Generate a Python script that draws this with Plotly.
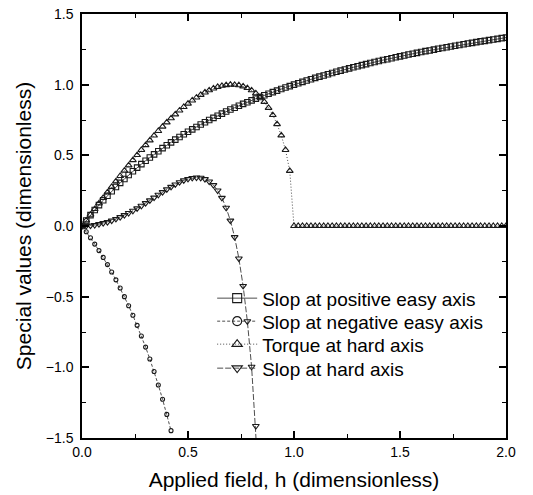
import plotly.graph_objects as go

# sampling grid of applied field h (step 0.02)
h_grid = [round(i * 0.02, 2) for i in range(101)]

# Slop at positive easy axis (h = 0 ... 2.0)
pos_easy = [
    0.000, 0.039, 0.077, 0.113, 0.148, 0.182, 0.214, 0.246, 0.276, 0.305,
    0.333, 0.361, 0.387, 0.413, 0.438, 0.462, 0.485, 0.507, 0.529, 0.551,
    0.571, 0.592, 0.611, 0.630, 0.649, 0.667, 0.684, 0.701, 0.718, 0.734,
    0.750, 0.765, 0.780, 0.795, 0.810, 0.824, 0.837, 0.851, 0.864, 0.876,
    0.889, 0.901, 0.913, 0.925, 0.936, 0.947, 0.958, 0.969, 0.980, 0.990,
    1.000, 1.010, 1.020, 1.029, 1.038, 1.048, 1.057, 1.065, 1.074, 1.083,
    1.091, 1.099, 1.107, 1.115, 1.123, 1.130, 1.138, 1.145, 1.153, 1.160,
    1.167, 1.174, 1.180, 1.187, 1.194, 1.200, 1.206, 1.213, 1.219, 1.225,
    1.231, 1.237, 1.242, 1.248, 1.254, 1.259, 1.265, 1.270, 1.275, 1.281,
    1.286, 1.291, 1.296, 1.301, 1.306, 1.310, 1.315, 1.320, 1.324, 1.329,
    1.333,
]

# Slop at negative easy axis (h = 0 ... 0.42)
neg_easy = [
    0.000, -0.041, -0.083, -0.128, -0.174, -0.222, -0.273, -0.326, -0.381, -0.439,
    -0.500, -0.564, -0.632, -0.703, -0.778, -0.857, -0.941, -1.030, -1.125, -1.226,
    -1.333, -1.448,
]

# Torque at hard axis (h = 0 ... 2.0)
torque_hard = [
    0.000, 0.040, 0.080, 0.120, 0.160, 0.199, 0.238, 0.277, 0.316, 0.354,
    0.392, 0.429, 0.466, 0.502, 0.538, 0.572, 0.606, 0.640, 0.672, 0.703,
    0.733, 0.762, 0.790, 0.817, 0.842, 0.866, 0.888, 0.909, 0.928, 0.945,
    0.960, 0.973, 0.984, 0.992, 0.997, 1.000, 0.999, 0.996, 0.988, 0.976,
    0.960, 0.939, 0.912, 0.878, 0.836, 0.785, 0.721, 0.641, 0.538, 0.390,
    0.0, 0.0, 0.0, 0.0, 0.0, 0.0, 0.0, 0.0, 0.0, 0.0,
    0.0, 0.0, 0.0, 0.0, 0.0, 0.0, 0.0, 0.0, 0.0, 0.0,
    0.0, 0.0, 0.0, 0.0, 0.0, 0.0, 0.0, 0.0, 0.0, 0.0,
    0.0, 0.0, 0.0, 0.0, 0.0, 0.0, 0.0, 0.0, 0.0, 0.0,
    0.0, 0.0, 0.0, 0.0, 0.0, 0.0, 0.0, 0.0, 0.0, 0.0,
    0.0,
]

# Slop at hard axis (h = 0 ... 0.84)
slope_hard = [
    0.000, 0.001, 0.003, 0.007, 0.013, 0.020, 0.028, 0.038, 0.050, 0.063,
    0.077, 0.092, 0.108, 0.125, 0.143, 0.162, 0.181, 0.201, 0.221, 0.240,
    0.259, 0.277, 0.294, 0.310, 0.323, 0.333, 0.340, 0.343, 0.341, 0.332,
    0.315, 0.289, 0.251, 0.199, 0.129, 0.038, -0.079, -0.230, -0.424, -0.674,
    -0.996, -1.415, -1.971,
]

names = [
    "Slop at positive easy axis",
    "Slop at negative easy axis",
    "Torque at hard axis",
    "Slop at hard axis",
]

FONT = "Liberation Sans, Arial, Helvetica, sans-serif"
MK = "#1a1a1a"
LN = "#4d4d4d"

series = [
    (pos_easy, "square-open", 5.5, "solid"),
    (neg_easy, "circle-open", 4, "3px,2px"),
    (torque_hard, "triangle-up-open", 6, "1px,2px"),
    (slope_hard, "triangle-down-open", 6, "6px,2px"),
]
legend_ids = ["legend", "legend2", "legend3", "legend4"]
legend_y = [0.3743, 0.3200, 0.2658, 0.2092]

fig = go.Figure()
for (vals, sym, sz, dash), nm in zip(series, names):
    fig.add_trace(go.Scatter(
        x=h_grid[:len(vals)], y=vals, mode="lines+markers", name=nm,
        showlegend=False,
        line=dict(color=LN, width=1, dash=dash),
        marker=dict(symbol=sym, size=sz, color=MK, line=dict(color=MK, width=1.1)),
    ))
# legend entries with larger symbols, one legend per row
for (vals, sym, sz, dash), nm, lid in zip(series, names, legend_ids):
    fig.add_trace(go.Scatter(
        x=[None], y=[None], mode="lines+markers", name=nm, legend=lid,
        line=dict(color=LN, width=1, dash=dash),
        marker=dict(symbol=sym, size=9, color=MK, line=dict(color=MK, width=1.1)),
    ))

axis_common = dict(
    showline=True, linecolor="black", linewidth=1.5, mirror="ticks",
    ticks="inside", ticklen=7, tickwidth=1.5, tickcolor="black",
    minor=dict(ticks="inside", ticklen=4, tickwidth=1.2, tickcolor="black", dtick=0.25),
    showgrid=False, zeroline=False, tickformat=".1f", dtick=0.5,
    tickfont=dict(family=FONT, size=14, color="black"),
)

fig.update_xaxes(range=[0, 2], tick0=0,
                 title=dict(text="Applied field, h (dimensionless)",
                            font=dict(family=FONT, size=21, color="black"), standoff=14),
                 **axis_common)
fig.update_yaxes(range=[-1.5, 1.5], tick0=-1.5, ticklabelstandoff=4,
                 title=dict(text="Special values (dimensionless)",
                            font=dict(family=FONT, size=21, color="black"), standoff=8),
                 **axis_common)

legend_style = dict(xanchor="left", yanchor="top", bgcolor="rgba(0,0,0,0)",
                    borderwidth=0, font=dict(family=FONT, size=19, color="black"),
                    itemwidth=40)
layout_legends = {lid: dict(x=0.307, y=ly, **legend_style)
                  for lid, ly in zip(legend_ids, legend_y)}

fig.update_layout(
    width=533, height=495,
    margin=dict(l=82, r=27, t=14, b=57, autoexpand=False),
    paper_bgcolor="white", plot_bgcolor="white",
    font=dict(family=FONT, color="black"),
    **layout_legends,
)

fig.write_html("out.html")
